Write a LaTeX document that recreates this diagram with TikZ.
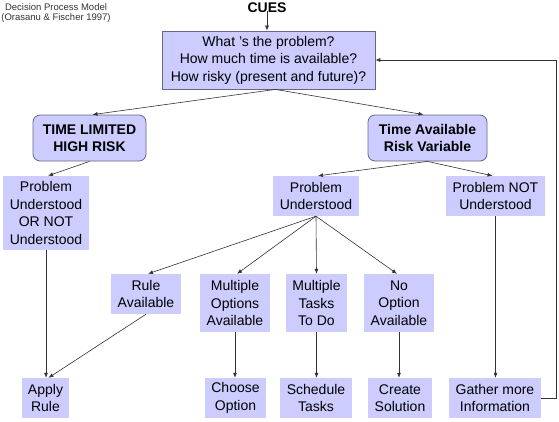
\documentclass[tikz,border=0pt]{standalone}
\usepackage{fontspec}
\setmainfont{Liberation Sans}
\usetikzlibrary{arrows.meta}
\definecolor{boxfill}{HTML}{CCCCFF}
\definecolor{boxline}{HTML}{66668A}
\definecolor{wire}{HTML}{333333}
\begin{document}
\begin{tikzpicture}[x=1pt,y=-1pt,
  base/.style={fill=boxfill, inner sep=0pt, align=center, font=\fontsize{14}{17.5}\selectfont},
  plainbox/.style={base},
  framebox/.style={base, draw=boxline, line width=0.8pt},
  roundbox/.style={base, draw=boxline, line width=0.8pt, rounded corners=7pt, font=\bfseries\fontsize{14}{17.5}\selectfont},
  conn/.style={draw=wire, line width=0.6pt, -{Latex[length=5pt,width=4pt]}}
]
\useasboundingbox (0,0) rectangle (559,421);
\fill[white] (0,0) rectangle (559,421);

\node[align=center, text=black!80, font=\fontsize{9.5}{10}\selectfont, inner sep=0pt] (title) at (56,13) {Decision Process Model\\(Orasanu \& Fischer 1997)};
\node[font=\bfseries\fontsize{14}{17}\selectfont, inner sep=0pt] (cues) at (267,8) {CUES};

\node[framebox, minimum width=213pt, minimum height=58pt] (top) at (268.5,60) {What 's the problem?\\How much time is available?\\How risky (present and future)?};

\node[roundbox, minimum width=113pt, minimum height=46pt] (tl) at (89.5,138) {TIME LIMITED\\HIGH RISK};
\node[roundbox, minimum width=119pt, minimum height=46pt] (ta) at (427.5,138) {Time Available\\Risk Variable};

\node[plainbox, minimum width=86pt, minimum height=74pt] (puon) at (46,213) {Problem\\Understood\\OR NOT\\Understood};
\node[plainbox, minimum width=86pt, minimum height=40pt] (pu) at (316,196) {Problem\\Understood};
\node[plainbox, minimum width=99pt, minimum height=40pt] (pnu) at (495.5,196) {Problem NOT\\Understood};

\node[plainbox, minimum width=70pt, minimum height=40pt] (ra) at (146,294) {Rule\\Available};
\node[plainbox, minimum width=70pt, minimum height=58pt] (moa) at (235,303) {Multiple\\Options\\Available};
\node[plainbox, minimum width=61pt, minimum height=58pt] (mtd) at (316.5,303) {Multiple\\Tasks\\To Do};
\node[plainbox, minimum width=70pt, minimum height=58pt] (noa) at (399,303) {No\\Option\\Available};

\node[plainbox, minimum width=47pt, minimum height=40pt] (ar) at (45.5,398) {Apply\\Rule};
\node[plainbox, minimum width=61pt, minimum height=40pt] (co) at (235.5,398) {Choose\\Option};
\node[plainbox, minimum width=72pt, minimum height=40pt] (st) at (316,398) {Schedule\\Tasks};
\node[plainbox, minimum width=64pt, minimum height=40pt] (cs) at (400,398) {Create\\Solution};
\node[plainbox, minimum width=92pt, minimum height=40pt] (gi) at (495,398) {Gather more\\Information};

\coordinate (fb) at (556,398);

\draw[conn] ([yshift=2pt]cues.south) -- (cues.south |- top.north);
\draw[conn] ([xshift=7pt]top.south) -- ([xshift=3pt]tl.north);
\draw[conn] ([xshift=7pt]top.south) -- ([xshift=-4pt]ta.north);
\draw[conn] (tl.south) -- ([xshift=2pt]puon.north);
\draw[conn] (ta.south) -- ([xshift=2pt]pu.north);
\draw[conn] (ta.south) -- ([xshift=-3pt]pnu.north);
\draw[conn] (pu.south) -- ([xshift=2pt]ra.north);
\draw[conn] (pu.south) -- ([xshift=2pt]moa.north);
\draw[conn] (pu.south) -- (mtd.north);
\draw[conn] (pu.south) -- ([xshift=-2pt]noa.north);
\draw[conn] (puon.south) -- (puon.south |- ar.north);
\draw[conn] (ra.south) -- ([xshift=3pt]ar.north);
\draw[conn] (moa.south) -- (moa.south |- co.north);
\draw[conn] (mtd.south) -- (mtd.south |- st.north);
\draw[conn] (noa.south) -- (noa.south |- cs.north);
\draw[conn] (pnu.south) -- (pnu.south |- gi.north);
\draw[conn] (gi.east) -- (fb) |- (top.east);
\end{tikzpicture}
\end{document}
